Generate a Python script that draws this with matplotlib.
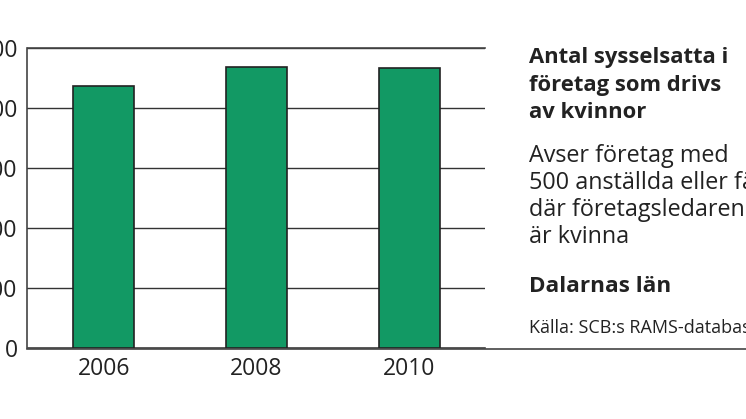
import matplotlib
matplotlib.use("Agg")
import matplotlib.pyplot as plt
from matplotlib.lines import Line2D

years = ["2006", "2008", "2010"]
values = [4370, 4685, 4672]
yticks = [0, 1000, 2000, 3000, 4000, 5000]
ytick_labels = ["0", "1000", "2000", "3000", "4000", "5000"]

title_lines = ["Antal sysselsatta i", "företag som drivs", "av kvinnor"]
desc_lines = ["Avser företag med", "500 anställda eller färre", "där företagsledaren", "är kvinna"]
region = "Dalarnas län"
source = "Källa: SCB:s RAMS-databas"

plt.rcParams['font.family'] = ['Open Sans', 'DejaVu Sans']

W, H = 746, 419
fig = plt.figure(figsize=(W/100, H/100), dpi=100)
ax = fig.add_axes([27.5/W, 1-348.3/H, 458/W, 300/H])

x = range(len(years))
ax.bar(x, values, width=0.4, color="#129964", edgecolor="#222222", linewidth=1.2, zorder=3)
ax.set_xlim(-0.5, 2.5)
ax.set_ylim(0, 5000)
ax.set_yticks(yticks)
ax.set_yticklabels(ytick_labels)
ax.set_xticks(list(x))
ax.set_xticklabels(years)
ax.yaxis.grid(True, color="#333333", linewidth=1.0, zorder=0)
ax.tick_params(axis='both', length=0, labelsize=16.5, colors="#222222")
ax.tick_params(axis='y', pad=7)
ax.tick_params(axis='x', pad=6)
ax.spines['right'].set_visible(False)
for s in ['left', 'top', 'bottom']:
    ax.spines[s].set_color("#444444")
    ax.spines[s].set_linewidth(1.2)

# bottom baseline extends across the full figure width
fig.add_artist(Line2D([27.5/W, 1.0], [1-348.6/H, 1-348.6/H],
                      color="#444444", linewidth=1.2, transform=fig.transFigure))

tx = 529/W
col = "#222222"
for i, line in enumerate(title_lines):
    fig.text(tx, 1-(63.3 + 27.5*i)/H, line, fontsize=15.8, fontweight='bold',
             color=col, va='baseline', ha='left')
for i, line in enumerate(desc_lines):
    fig.text(tx, 1-(161.7 + 27.2*i)/H, line, fontsize=16.8,
             color=col, va='baseline', ha='left')
fig.text(tx, 1-291.7/H, region, fontsize=16.2, fontweight='bold', color=col,
         va='baseline', ha='left')
fig.text(tx, 1-333/H, source, fontsize=13, color=col, va='baseline', ha='left')

fig.savefig("out.png", dpi=100)
